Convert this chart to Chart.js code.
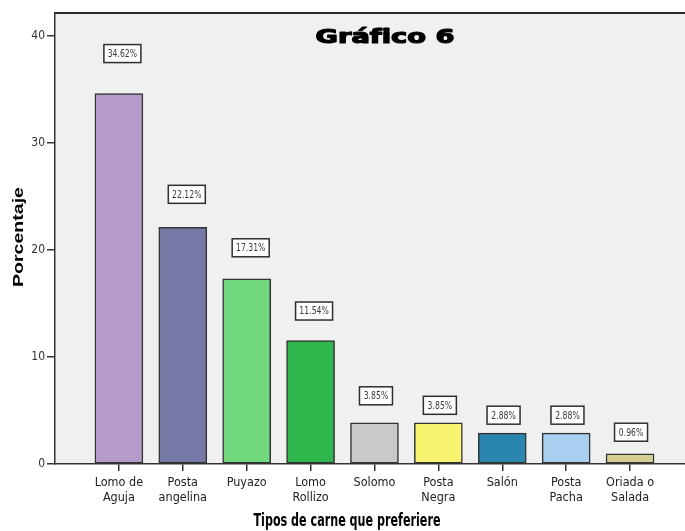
<!DOCTYPE html>
<html lang="es">
<head>
<meta charset="utf-8">
<title>Gráfico 6</title>
<script src="https://cdn.jsdelivr.net/npm/chart.js@4.4.1/dist/chart.umd.min.js"></script>
<style>
  html, body { margin: 0; padding: 0; background: #ffffff; overflow: hidden; }
  #wrap { width: 685px; height: 531px; position: relative; }
</style>
</head>
<body>
<div id="wrap"><canvas id="grafico" width="685" height="531"></canvas></div>
<script>
// Tipos de carne preferidos (porcentaje de encuestados)
const categorias = [
  ['Lomo de', 'Aguja'],
  ['Posta', 'angelina'],
  ['Puyazo'],
  ['Lomo', 'Rollizo'],
  ['Solomo'],
  ['Posta', 'Negra'],
  ['Salón'],
  ['Posta', 'Pacha'],
  ['Oriada o', 'Salada']
];
const porcentajes = [34.62, 22.12, 17.31, 11.54, 3.85, 3.85, 2.88, 2.88, 0.96];
const ticksY = [0, 10, 20, 30, 40];

// Estilo
const coloresBarras = [
  '#b59bc9', '#7678a6', '#72d87e', '#2fb64c', '#c9c9c9',
  '#f9f470', '#2a86ae', '#a9cff0', '#d5ce90'
];
// elevación (px) de cada etiqueta sobre su barra
const elevacionEtiqueta = [40, 33, 31, 29.5, 27, 17.5, 18, 18, 21.5];
// desplazamiento horizontal (px) de cada etiqueta
const desplazamientoEtiqueta = [3.5, 4, 4, 3.5, 1.5, 1.5, 1.3, 1.3, 1];

const FUENTE_ESTRECHA = "'Liberation Sans Narrow', 'Arial Narrow', 'DejaVu Sans Condensed', sans-serif";
const FUENTE = "'Liberation Sans', Arial, sans-serif";

function textoAjustado(ctx, texto, cx, cy, ancho, fuente, rot, grosor) {
  ctx.save();
  ctx.font = fuente;
  const w = ctx.measureText(texto).width;
  ctx.translate(cx, cy);
  if (rot) ctx.rotate(rot);
  ctx.scale(ancho / w, 1);
  ctx.textAlign = 'center';
  ctx.textBaseline = 'middle';
  ctx.fillStyle = '#000000';
  ctx.fillText(texto, 0, 0);
  if (grosor) {
    ctx.lineWidth = grosor;
    ctx.strokeStyle = '#000000';
    ctx.lineJoin = 'round';
    ctx.strokeText(texto, 0, 0);
  }
  ctx.restore();
}

const decorado = {
  id: 'decorado',
  beforeDraw(chart) {
    const { ctx, chartArea: a } = chart;
    ctx.save();
    ctx.fillStyle = '#f0f0f0';
    ctx.fillRect(a.left, a.top, a.right - a.left, a.bottom - a.top);
    ctx.restore();
  },
  afterDatasetsDraw(chart) {
    const { ctx } = chart;
    const meta = chart.getDatasetMeta(0);
    const escala = 0.78;
    meta.data.forEach((barra, i) => {
      const texto = porcentajes[i].toFixed(2) + '%';
      ctx.save();
      ctx.font = '11px ' + FUENTE_ESTRECHA;
      const tw = ctx.measureText(texto).width * escala;
      const w = Math.round(tw + 8), h = 18;
      const cx = barra.x + desplazamientoEtiqueta[i];
      const cy = barra.y - elevacionEtiqueta[i];
      ctx.fillStyle = '#ffffff';
      ctx.fillRect(cx - w / 2, cy - h / 2, w, h);
      ctx.lineWidth = 1.5;
      ctx.strokeStyle = '#2e2e2e';
      ctx.strokeRect(cx - w / 2, cy - h / 2, w, h);
      ctx.translate(cx, cy + 0.5);
      ctx.scale(escala, 1);
      ctx.fillStyle = '#3a3a3a';
      ctx.textAlign = 'center';
      ctx.textBaseline = 'middle';
      ctx.fillText(texto, 0, 0);
      ctx.restore();
    });
  },
  afterDraw(chart) {
    const { ctx, chartArea: a, scales } = chart;
    // borde superior del área de trazado
    ctx.save();
    ctx.strokeStyle = '#2a2a2a';
    ctx.lineWidth = 2;
    ctx.beginPath();
    ctx.moveTo(a.left, a.top);
    ctx.lineTo(a.right, a.top);
    ctx.stroke();
    ctx.restore();

    // título
    textoAjustado(ctx, 'Gráfico 6', 385, 38, 139, "bold 19px 'DejaVu Sans', sans-serif", 0, 1.2);
    // título del eje Y
    textoAjustado(ctx, 'Porcentaje', 18.5, 237, 100, 'bold 15px ' + FUENTE, -Math.PI / 2);
    // título del eje X, centrado en todo el ancho del gráfico
    const xFin = scales.x.getPixelForValue(categorias.length);
    textoAjustado(ctx, 'Tipos de carne que preferiere', xFin / 2, 522, 187, 'bold 17px ' + FUENTE_ESTRECHA);
  }
};

new Chart(document.getElementById('grafico'), {
  type: 'bar',
  data: {
    datasets: [{
      data: porcentajes.map((v, i) => ({ x: i, y: v })),
      backgroundColor: coloresBarras,
      borderColor: '#333333',
      borderWidth: 1.5,
      borderSkipped: false,
      barThickness: 48
    }]
  },
  options: {
    responsive: false,
    animation: false,
    layout: { padding: { top: 13, left: 0, right: 0, bottom: 0 } },
    plugins: {
      legend: { display: false },
      tooltip: { enabled: false }
    },
    scales: {
      x: {
        type: 'linear',
        offset: false,
        min: -1,
        max: 8.86,
        afterBuildTicks(scale) { scale.ticks = categorias.map((_, i) => ({ value: i })); },
        afterFit(scale) { scale.height = 67; },
        grid: { offset: false, drawOnChartArea: false, drawTicks: true, tickLength: 7, color: '#333333', lineWidth: 1.5 },
        border: { display: true, color: '#333333', width: 1.5 },
        ticks: {
          autoSkip: false,
          maxRotation: 0,
          padding: 4.5,
          color: '#222222',
          font: { family: FUENTE_ESTRECHA, size: 12.5, lineHeight: 15 / 12.5 },
          callback: (v) => categorias[v] || ''
        }
      },
      y: {
        min: 0,
        max: 42.15,
        afterBuildTicks(scale) { scale.ticks = ticksY.map(v => ({ value: v })); },
        afterFit(scale) { scale.width = 55; },
        grid: { drawOnChartArea: false, drawTicks: true, tickLength: 8, color: '#333333', lineWidth: 1.5 },
        border: { display: true, color: '#333333', width: 1.5 },
        ticks: {
          padding: 2,
          color: '#333333',
          font: { family: FUENTE_ESTRECHA, size: 12 }
        }
      }
    }
  },
  plugins: [decorado]
});
</script>
</body>
</html>
